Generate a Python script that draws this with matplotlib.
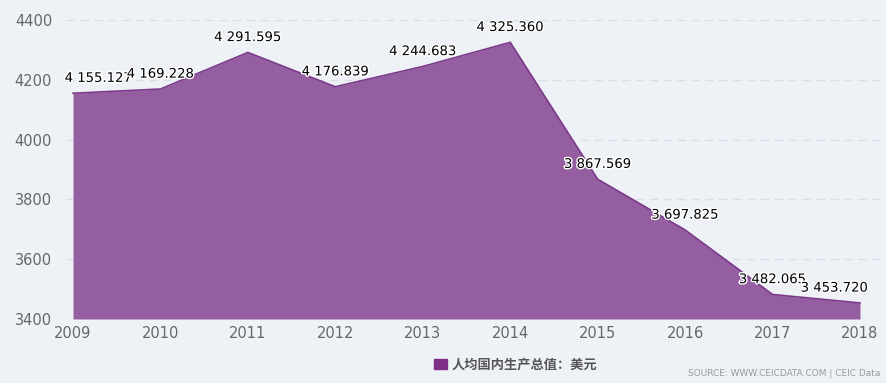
import matplotlib.pyplot as plt
import matplotlib.patheffects as pe

years = [2009, 2010, 2011, 2012, 2013, 2014, 2015, 2016, 2017, 2018]
gdp_pc = [4155.127, 4169.228, 4291.595, 4176.839, 4244.683, 4325.360,
          3867.569, 3697.825, 3482.065, 3453.720]
yticks = [3400, 3600, 3800, 4000, 4200, 4400]

bg = "#eef2f7"
fill_c = "#955ea0"
line_c = "#7b3a8a"

fig = plt.figure(figsize=(8.87, 3.83), dpi=100, facecolor=bg)
W, H = 887, 383
ax = fig.add_axes([66 / W, (H - 319) / H, (885 - 66) / W, 299 / H], facecolor=bg)

ax.fill_between(years, gdp_pc, 3400, color=fill_c, lw=0)
ax.plot(years, gdp_pc, color=line_c, lw=1.2)

ppy = (860 - 73) / 9
ax.set_xlim(2009 - 7 / ppy, 2018 + 25 / ppy)
ax.set_ylim(3400, 4400)
ax.set_xticks(years)
ax.set_yticks(yticks)
ax.grid(axis="y", color="#d8dfe8", ls=(0, (6, 4)), lw=1)
ax.set_axisbelow(True)
for s in ax.spines.values():
    s.set_visible(False)
ax.tick_params(length=0, colors="#666666", labelsize=10.5)
ax.tick_params(axis="y", pad=10)
ax.tick_params(axis="x", pad=5)

halo = [pe.withStroke(linewidth=2, foreground="white")]
for i, (x, v) in enumerate(zip(years, gdp_pc)):
    s = f"{v:,.3f}".replace(",", " ")
    ha = "center"
    dx = 0
    if i == 0:
        ha, dx = "left", -6
    elif i == len(years) - 1:
        ha, dx = "right", 6
    ax.annotate(s, (x, v), xytext=(dx, 6), textcoords="offset points",
                ha=ha, va="bottom", fontsize=9.5, color="black",
                path_effects=halo)

# legend
fig.patches.append(plt.Rectangle((434 / W, (H - 369) / H), 13 / W, 10 / H,
                                 transform=fig.transFigure, color="#7d2e85"))
fig.text(452 / W, (H - 364) / H, "人均国内生产总值：美元", fontsize=9.5,
         family=["Noto Sans CJK SC", "DejaVu Sans"], color="#555555",
         fontweight="bold", va="center")
fig.text(880 / W, (H - 374) / H, "SOURCE: WWW.CEICDATA.COM | CEIC Data",
         fontsize=6.5, color="#999999", ha="right", va="center")

fig.savefig("out.png", dpi=100, facecolor=bg)
